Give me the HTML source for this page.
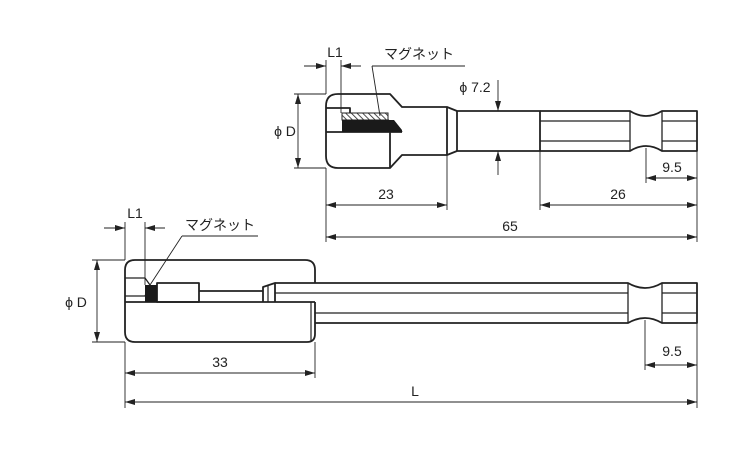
<!DOCTYPE html>
<html><head><meta charset="utf-8"><style>
html,body{margin:0;padding:0;background:#fff;}
svg{display:block;}
text{font-family:"Liberation Sans","Noto Sans CJK JP",sans-serif;fill:#222;}
</style></head><body>
<svg width="750" height="450" viewBox="0 0 750 450" xmlns="http://www.w3.org/2000/svg">
<defs>
<marker id="a" viewBox="0 0 10 6" refX="10" refY="3" markerWidth="10" markerHeight="6" orient="auto-start-reverse" markerUnits="userSpaceOnUse"><path d="M0,0L10,3L0,6z" fill="#222"/></marker>
<pattern id="h" width="4" height="4" patternUnits="userSpaceOnUse" patternTransform="rotate(-45)"><rect width="4" height="4" fill="#fff"/><line x1="0" y1="0" x2="0" y2="4" stroke="#222" stroke-width="1.6"/></pattern>
</defs>
<g fill="none" stroke="#222" stroke-width="1.8" stroke-linejoin="round">
<path d="M338,94 L390,94 L402,107 L447,107 L457,111 L540,111 L540,151 L457,151 L447,155 L402,155 L390,168 L338,168 Q326,168 326,156 L326,106 Q326,94 338,94 Z"/>
<line x1="447" y1="107" x2="447" y2="155"/>
<line x1="457" y1="111" x2="457" y2="151"/>
<path d="M326,108 L350,108 L350,120"/>
<path d="M326,132 L402,132"/>
<line x1="390" y1="132" x2="390" y2="168"/>
<path d="M388,120 L402,132"/>
<path d="M540,111 L630,111 Q646,121 662,111 L697,111 L697,151 L662,151 Q646,141 630,151 L540,151"/>
<line x1="540" y1="121" x2="630" y2="121" stroke-width="1.3"/>
<line x1="540" y1="141" x2="630" y2="141" stroke-width="1.3"/>
<line x1="662" y1="121" x2="697" y2="121" stroke-width="1.3"/>
<line x1="662" y1="141" x2="697" y2="141" stroke-width="1.3"/>
<line x1="630" y1="111" x2="630" y2="151" stroke-width="1.3"/>
<line x1="662" y1="111" x2="662" y2="151" stroke-width="1.3"/>
</g>
<rect x="342" y="113" width="46" height="7" fill="url(#h)" stroke="#222" stroke-width="1"/>
<path d="M342,120 L394,120 L402,130 L402,132 L342,132 Z" fill="#1a1a1a"/>

<g fill="none" stroke="#222" stroke-width="1.8" stroke-linejoin="round">
<path d="M135,260 L305,260 Q315,260 315,270 L315,283"/>
<path d="M135,260 Q125,260 125,270 L125,332 Q125,342 135,342 L307,342 Q315,342 315,334 L315,302"/>
<line x1="125" y1="302" x2="315" y2="302"/>
<line x1="311" y1="302" x2="311" y2="342" stroke-width="1.2"/>
<path d="M125,278 L145,278 L150,285 L145,296 L125,296" stroke-width="1.3"/>
<rect x="157" y="283" width="42" height="19"/>
<line x1="199" y1="291" x2="263" y2="291"/>
<path d="M263,302 L263,287 L275,283 L275,302"/>
<line x1="268" y1="285" x2="268" y2="302" stroke-width="1.2"/>
<path d="M275,283 L628,283 Q645,293 662,283 L697,283 L697,323 L662,323 Q645,313 628,323 L315,323"/>
<line x1="275" y1="293" x2="628" y2="293" stroke-width="1.3"/>
<line x1="315" y1="313" x2="628" y2="313" stroke-width="1.3"/>
<line x1="628" y1="283" x2="628" y2="323" stroke-width="1.3"/>
<line x1="662" y1="283" x2="662" y2="323" stroke-width="1.3"/>
<line x1="662" y1="293" x2="697" y2="293" stroke-width="1.3"/>
<line x1="662" y1="313" x2="697" y2="313" stroke-width="1.3"/>
</g>
<rect x="145" y="285" width="12" height="17" fill="#1a1a1a"/>

<g stroke="#222" stroke-width="0.9" fill="none">
<line x1="326" y1="60" x2="326" y2="94"/><line x1="341" y1="60" x2="341" y2="113"/>
<line x1="304" y1="66" x2="326" y2="66" marker-end="url(#a)"/>
<line x1="361" y1="66" x2="341" y2="66" marker-end="url(#a)"/>
<line x1="372" y1="66" x2="465" y2="66"/><line x1="372" y1="66" x2="380" y2="116"/>
<line x1="294" y1="94" x2="326" y2="94"/><line x1="294" y1="168" x2="326" y2="168"/>
<line x1="298" y1="94" x2="298" y2="168" marker-start="url(#a)" marker-end="url(#a)"/>
<line x1="498" y1="80" x2="498" y2="111" marker-end="url(#a)"/>
<line x1="498" y1="175" x2="498" y2="151" marker-end="url(#a)"/>
<line x1="326" y1="168" x2="326" y2="242"/>
<line x1="447" y1="155" x2="447" y2="210"/>
<line x1="540" y1="151" x2="540" y2="210"/>
<line x1="697" y1="151" x2="697" y2="242"/>
<line x1="646" y1="148" x2="646" y2="183"/>
<line x1="326" y1="205" x2="447" y2="205" marker-start="url(#a)" marker-end="url(#a)"/>
<line x1="540" y1="205" x2="697" y2="205" marker-start="url(#a)" marker-end="url(#a)"/>
<line x1="646" y1="178" x2="697" y2="178" marker-start="url(#a)" marker-end="url(#a)"/>
<line x1="326" y1="237" x2="697" y2="237" marker-start="url(#a)" marker-end="url(#a)"/>
<line x1="125" y1="222" x2="125" y2="260"/><line x1="145" y1="222" x2="145" y2="285"/>
<line x1="104" y1="228" x2="125" y2="228" marker-end="url(#a)"/>
<line x1="165" y1="228" x2="145" y2="228" marker-end="url(#a)"/>
<line x1="182" y1="236" x2="258" y2="236"/><line x1="182" y1="236" x2="150" y2="285"/>
<line x1="92" y1="260" x2="125" y2="260"/><line x1="92" y1="342" x2="125" y2="342"/>
<line x1="97" y1="260" x2="97" y2="342" marker-start="url(#a)" marker-end="url(#a)"/>
<line x1="125" y1="342" x2="125" y2="408"/>
<line x1="315" y1="342" x2="315" y2="378"/>
<line x1="697" y1="323" x2="697" y2="408"/>
<line x1="645" y1="320" x2="645" y2="370"/>
<line x1="125" y1="373" x2="315" y2="373" marker-start="url(#a)" marker-end="url(#a)"/>
<line x1="645" y1="365" x2="697" y2="365" marker-start="url(#a)" marker-end="url(#a)"/>
<line x1="125" y1="402" x2="697" y2="402" marker-start="url(#a)" marker-end="url(#a)"/>
</g>
<g font-size="14">
<text x="335" y="57" text-anchor="middle">L1</text>
<text x="419" y="59" text-anchor="middle">マグネット</text>
<text x="285" y="136" text-anchor="middle">ϕ D</text>
<text x="475" y="92" text-anchor="middle">ϕ 7.2</text>
<text x="386" y="199" text-anchor="middle">23</text>
<text x="618" y="199" text-anchor="middle">26</text>
<text x="672" y="172" text-anchor="middle">9.5</text>
<text x="510" y="231" text-anchor="middle">65</text>
<text x="135" y="218" text-anchor="middle">L1</text>
<text x="220" y="230" text-anchor="middle">マグネット</text>
<text x="76" y="307" text-anchor="middle">ϕ D</text>
<text x="220" y="367" text-anchor="middle">33</text>
<text x="672" y="356" text-anchor="middle">9.5</text>
<text x="415" y="396" text-anchor="middle">L</text>
</g>
</svg>
</body></html>
